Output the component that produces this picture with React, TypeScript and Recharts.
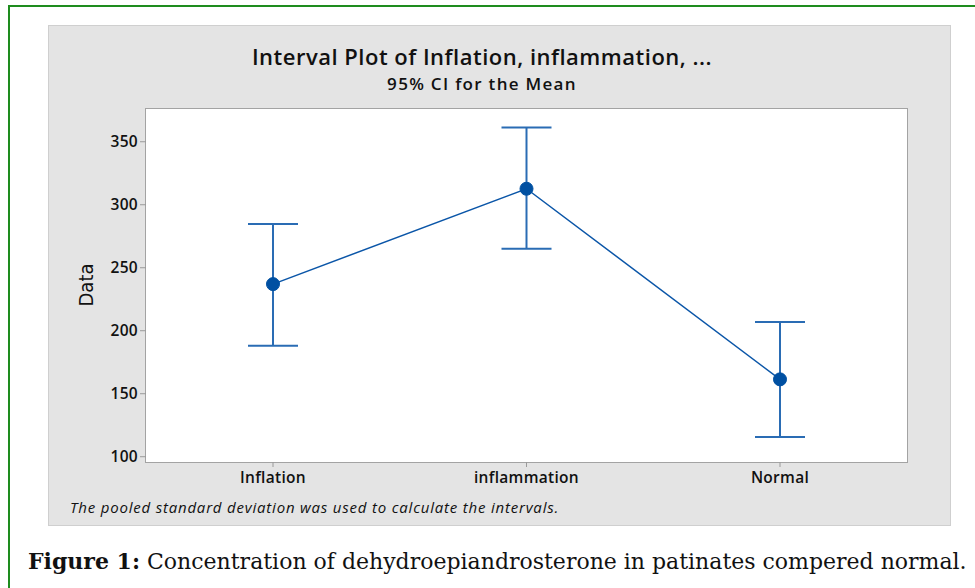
import { LineChart, Line, XAxis, YAxis, ErrorBar } from 'recharts';

const groups = ['Inflation', 'inflammation', 'Normal'];
const means = [237, 312.7, 161.4];
const lowerCI = [188.1, 265.1, 115.7];
const upperCI = [284.7, 361.4, 206.9];
const yTicks = [100, 150, 200, 250, 300, 350];

const rows = groups.map((g, i) => ({
  group: g,
  mean: means[i],
  ci: [means[i] - lowerCI[i], upperCI[i] - means[i]],
}));

const sans = "'Open Sans', 'Noto Sans', sans-serif";
const blue = '#0b56a8';
const tickStyle = { fill: '#111', fontFamily: sans, fontWeight: 600, fontSize: 15.5, letterSpacing: 0.3 };

export default function App() {
  return (
    <div style={{ position: 'absolute', left: 0, top: 0, width: 975, height: 588, background: '#fff', overflow: 'hidden' }}>
      {/* green frame, left and top only */}
      <div style={{ position: 'absolute', left: 8, top: 5, width: 990, height: 600, borderLeft: '2px solid #1e8c1e', borderTop: '2px solid #1e8c1e' }} />
      {/* grey minitab panel */}
      <div style={{ position: 'absolute', left: 48, top: 25, width: 901, height: 499, background: '#e4e4e4', border: '1px solid #cfcfcf' }} />
      {/* plot area */}
      <div style={{ position: 'absolute', left: 145, top: 108, width: 763, height: 355, boxSizing: 'border-box', background: '#fff', border: '1.5px solid #a3a3a3' }} />

      <div style={{ position: 'absolute', left: 182, width: 600, top: 41, textAlign: 'center', fontFamily: sans, fontWeight: 600, fontSize: 22, letterSpacing: 0.5, color: '#111' }}>
        Interval Plot of Inflation, inflammation, ...
      </div>
      <div style={{ position: 'absolute', left: 182, width: 600, top: 72, textAlign: 'center', fontFamily: sans, fontWeight: 600, fontSize: 17, letterSpacing: 1.3, color: '#111' }}>
        95% CI for the Mean
      </div>
      <div style={{ position: 'absolute', left: 85.5, top: 285, transform: 'translate(-50%, -50%) rotate(-90deg)', fontFamily: "'Liberation Sans Narrow', 'DejaVu Sans Condensed', sans-serif", fontSize: 20, color: '#111', whiteSpace: 'nowrap' }}>
        Data
      </div>
      <div style={{ position: 'absolute', left: 70, top: 497, fontFamily: sans, fontStyle: 'italic', fontSize: 15, letterSpacing: 0.8, color: '#111', whiteSpace: 'nowrap' }}>
        The pooled standard deviation was used to calculate the intervals.
      </div>
      <div style={{ position: 'absolute', left: 28, top: 548, fontFamily: "'DejaVu Serif', serif", fontSize: 22, color: '#111', whiteSpace: 'nowrap' }}>
        <b>Figure 1:</b> Concentration of dehydroepiandrosterone in patinates compered normal.
      </div>

      <div style={{ position: 'absolute', left: 0, top: 0 }}>
        <LineChart width={975} height={588} data={rows} margin={{ top: 109, right: 68, bottom: 96, left: 86 }}>
          <XAxis
            dataKey="group"
            axisLine={false}
            tickLine={{ stroke: '#9a9a9a' }}
            tickSize={5}
            tickMargin={5}
            padding={{ left: 127, right: 127 }}
            tick={tickStyle}
            height={30}
          />
          <YAxis
            domain={[95.8, 376]}
            ticks={yTicks}
            allowDataOverflow
            axisLine={false}
            tickLine={{ stroke: '#9a9a9a' }}
            tickSize={6}
            tickMargin={2}
            width={60}
            tick={tickStyle}
          />
          <Line
            dataKey="mean"
            stroke={blue}
            strokeWidth={1.5}
            dot={{ r: 6.5, fill: '#0050a2', stroke: '#0050a2', strokeWidth: 1 }}
            activeDot={false}
            isAnimationActive={false}
          >
            <ErrorBar dataKey="ci" direction="y" width={25} stroke="#2a6cb4" strokeWidth={2} />
          </Line>
        </LineChart>
      </div>
    </div>
  );
}
